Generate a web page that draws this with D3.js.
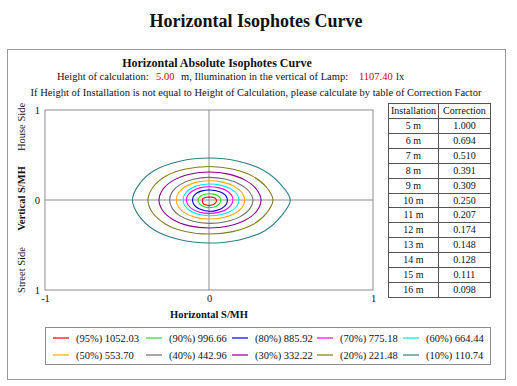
<!DOCTYPE html>
<html>
<head>
<meta charset="utf-8">
<script src="https://cdn.jsdelivr.net/npm/d3@7"></script>
<style>
  body { margin: 0; background: #fff; }
  text { font-family: "Liberation Serif", "Times New Roman", serif; fill: #111; }
  .bold { font-weight: bold; }
</style>
</head>
<body>
<svg></svg>
<script>
// contour levels, innermost first
const levels = ["95%", "90%", "80%", "70%", "60%", "50%", "40%", "30%", "20%", "10%"];
const luxValues = ["1052.03", "996.66", "885.92", "775.18", "664.44", "553.70", "442.96", "332.22", "221.48", "110.74"];
const colors = ["#ff0000", "#22dd22", "#0000cc", "#ff00ff", "#00e5ee", "#ffaa00", "#6e6e6e", "#8b008b", "#7f7f1f", "#2f7f80"];

// radius (S/MH) of each isophote at 16 directions, every 22.5 deg starting at +x, counter-clockwise
const radii = [
  [0.045, 0.043, 0.040, 0.035, 0.032, 0.034, 0.037, 0.040, 0.040, 0.044, 0.052, 0.058, 0.062, 0.058, 0.052, 0.048],
  [0.072, 0.072, 0.072, 0.071, 0.070, 0.069, 0.068, 0.067, 0.067, 0.069, 0.074, 0.080, 0.085, 0.083, 0.078, 0.074],
  [0.112, 0.113, 0.114, 0.112, 0.111, 0.110, 0.107, 0.103, 0.100, 0.103, 0.110, 0.118, 0.125, 0.125, 0.120, 0.115],
  [0.146, 0.148, 0.149, 0.149, 0.148, 0.146, 0.142, 0.139, 0.138, 0.139, 0.143, 0.147, 0.149, 0.149, 0.148, 0.146],
  [0.183, 0.182, 0.181, 0.179, 0.178, 0.175, 0.168, 0.161, 0.158, 0.160, 0.166, 0.171, 0.174, 0.178, 0.182, 0.183],
  [0.218, 0.217, 0.216, 0.215, 0.214, 0.212, 0.207, 0.202, 0.199, 0.201, 0.206, 0.209, 0.211, 0.214, 0.217, 0.218],
  [0.268, 0.262, 0.256, 0.252, 0.251, 0.249, 0.246, 0.242, 0.240, 0.243, 0.250, 0.256, 0.260, 0.262, 0.265, 0.267],
  [0.317, 0.313, 0.312, 0.311, 0.311, 0.310, 0.308, 0.305, 0.305, 0.306, 0.309, 0.311, 0.311, 0.313, 0.315, 0.316],
  [0.390, 0.378, 0.375, 0.373, 0.373, 0.373, 0.374, 0.370, 0.372, 0.372, 0.376, 0.378, 0.378, 0.380, 0.382, 0.380],
  [0.496, 0.470, 0.468, 0.467, 0.467, 0.467, 0.468, 0.460, 0.467, 0.462, 0.472, 0.476, 0.478, 0.480, 0.482, 0.475]
];

const xTicks = [-1, 0, 1];
const xTickLabels = ["-1", "0", "1"];
const yTicks = [1, 0, -1];
const yTickLabels = ["1", "0", "1"];

const heights = ["5 m", "6 m", "7 m", "8 m", "9 m", "10 m", "11 m", "12 m", "13 m", "14 m", "15 m", "16 m"];
const corrections = ["1.000", "0.694", "0.510", "0.391", "0.309", "0.250", "0.207", "0.174", "0.148", "0.128", "0.111", "0.098"];

const calcHeight = "5.00";
const lampLux = "1107.40";

const width = 517;
const height = 386;
const svg = d3.select("svg").attr("width", width).attr("height", height);

// titles
svg.append("text").attr("class", "bold").attr("x", 256).attr("y", 27)
  .attr("text-anchor", "middle").style("font-size", "18px")
  .text("Horizontal Isophotes Curve");

svg.append("rect").attr("x", 7.5).attr("y", 49.5).attr("width", 498).attr("height", 330)
  .attr("fill", "none").attr("stroke", "#9a9a9a");

svg.append("text").attr("class", "bold").attr("x", 217).attr("y", 67)
  .attr("text-anchor", "middle").style("font-size", "12px")
  .text("Horizontal Absolute Isophotes Curve");

const info = svg.append("g").style("font-size", "10.5px");
info.append("text").attr("x", 57).attr("y", 80).text("Height of calculation:");
info.append("text").attr("x", 156).attr("y", 80).style("fill", "#e00000").text(calcHeight);
info.append("text").attr("x", 181).attr("y", 80).text("m, Illumination in the vertical of Lamp:");
info.append("text").attr("x", 359).attr("y", 80).style("fill", "#e00000").text(lampLux);
info.append("text").attr("x", 396).attr("y", 80).text("lx");
info.append("text").attr("x", 256).attr("y", 96).attr("text-anchor", "middle")
  .text("If Height of  Installation is not equal to Height of  Calculation, please calculate by table of  Correction Factor");

// plot
const xScale = d3.scaleLinear().domain([-1, 1]).range([45, 373]);
const yScale = d3.scaleLinear().domain([-1, 1]).range([290, 110]);

const g = svg.append("g");
g.append("rect").attr("x", xScale(-1)).attr("y", yScale(1))
  .attr("width", xScale(1) - xScale(-1)).attr("height", yScale(-1) - yScale(1))
  .attr("fill", "none").attr("stroke", "#8c8c8c");
g.append("line").attr("x1", xScale(0)).attr("x2", xScale(0))
  .attr("y1", yScale(1)).attr("y2", yScale(-1)).attr("stroke", "#8c8c8c");
g.append("line").attr("x1", xScale(-1)).attr("x2", xScale(1))
  .attr("y1", yScale(0)).attr("y2", yScale(0)).attr("stroke", "#8c8c8c");

const xAxis = d3.axisBottom(xScale).tickValues(xTicks).tickSize(0).tickPadding(5)
  .tickFormat((d, i) => xTickLabels[i]);
const xAxisG = g.append("g").attr("transform", `translate(0, ${yScale(-1)})`).call(xAxis);
const yAxis = d3.axisLeft(yScale).tickValues(yTicks).tickSize(0).tickPadding(5)
  .tickFormat((d, i) => yTickLabels[i]);
const yAxisG = g.append("g").attr("transform", `translate(${xScale(-1)}, 0)`).call(yAxis);
[xAxisG, yAxisG].forEach((a) => {
  a.selectAll(".domain").remove();
  a.selectAll("text").style("font-size", "10.5px").attr("fill", "#111")
    .style("font-family", "Liberation Serif, serif");
});

g.append("text").attr("class", "bold").attr("x", xScale(0)).attr("y", 318)
  .attr("text-anchor", "middle").style("font-size", "10.5px").text("Horizontal  S/MH");

const yLabels = [["House Side", 1, ""], ["Vertical  S/MH", 0, "bold"], ["Street Side", -1, ""]];
const yLabelPos = d3.scaleLinear().domain([-1, 1]).range([270, 127]);
yLabels.forEach(([t, v, c]) => {
  g.append("text").attr("class", c)
    .attr("transform", `translate(25, ${yLabelPos(v)}) rotate(-90)`)
    .attr("text-anchor", "middle").style("font-size", "10.5px").text(t);
});

// isophotes
const angleStep = (2 * Math.PI) / 16;
const line = d3.line()
  .x((d) => xScale(d.r * Math.cos(d.a)))
  .y((d) => yScale(d.r * Math.sin(d.a)))
  .curve(d3.curveCatmullRomClosed);

g.selectAll("path.iso")
  .data(radii.map((rs, i) => ({ i, pts: rs.map((r, k) => ({ r, a: k * angleStep })) })).reverse())
  .enter()
  .append("path")
  .attr("class", "iso")
  .attr("d", (d) => line(d.pts))
  .attr("fill", "none")
  .attr("stroke", (d) => colors[d.i])
  .attr("stroke-width", 1.1);

// correction table
const rows = ["head"].concat(heights);
const rowScale = d3.scaleBand().domain(rows).range([103, 297]);
const colX = [388, 438, 490];
const tbl = svg.append("g").style("font-size", "10px");
tbl.append("rect").attr("x", colX[0] + 0.5).attr("y", rowScale.range()[0] + 0.5)
  .attr("width", colX[2] - colX[0]).attr("height", rowScale.range()[1] - rowScale.range()[0])
  .attr("fill", "none").attr("stroke", "#555");
tbl.append("line").attr("x1", colX[1] + 0.5).attr("x2", colX[1] + 0.5)
  .attr("y1", rowScale.range()[0]).attr("y2", rowScale.range()[1]).attr("stroke", "#555");
tbl.selectAll("line.row").data(rows.slice(1)).enter().append("line").attr("class", "row")
  .attr("x1", colX[0]).attr("x2", colX[2])
  .attr("y1", (d) => Math.round(rowScale(d)) + 0.5).attr("y2", (d) => Math.round(rowScale(d)) + 0.5)
  .attr("stroke", "#555");
const cy = (d) => rowScale(d) + rowScale.bandwidth() / 2 + 3.5;
tbl.append("text").attr("x", (colX[0] + colX[1]) / 2 + 0.5).attr("y", cy("head"))
  .attr("text-anchor", "middle").text("Installation");
tbl.append("text").attr("x", (colX[1] + colX[2]) / 2 + 0.5).attr("y", cy("head"))
  .attr("text-anchor", "middle").text("Correction");
tbl.selectAll("text.h").data(heights).enter().append("text").attr("class", "h")
  .attr("x", (colX[0] + colX[1]) / 2 + 0.5).attr("y", cy).attr("text-anchor", "middle")
  .text((d) => d);
tbl.selectAll("text.c").data(corrections).enter().append("text").attr("class", "c")
  .attr("x", (colX[1] + colX[2]) / 2 + 0.5).attr("y", (d, i) => cy(heights[i]))
  .attr("text-anchor", "middle").text((d) => d);

// legend
const legend = svg.append("g").style("font-size", "10.5px");
legend.append("rect").attr("x", 45.5).attr("y", 327.5).attr("width", 445).attr("height", 37)
  .attr("fill", "none").attr("stroke", "#8c8c8c");
const legCols = [53, 146, 232, 317, 403];
const legRows = [338, 355];
levels.forEach((lv, i) => {
  const x = legCols[i % 5];
  const y = legRows[Math.floor(i / 5)];
  legend.append("line").attr("x1", x).attr("x2", x + 16).attr("y1", y).attr("y2", y)
    .attr("stroke", colors[i]).attr("stroke-width", 1.2);
  legend.append("text").attr("x", x + 23).attr("y", y + 3.5).text(`(${lv}) ${luxValues[i]}`);
});
</script>
</body>
</html>
